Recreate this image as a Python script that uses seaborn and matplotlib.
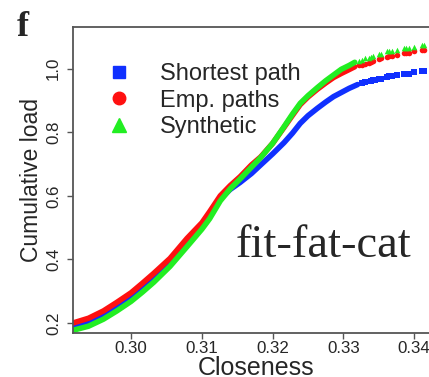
import matplotlib
matplotlib.use("Agg")
import matplotlib.pyplot as plt
import seaborn as sns
from matplotlib.lines import Line2D

# ---- data ----
x_red = [0.2918, 0.2940, 0.2961, 0.2980, 0.3000, 0.3016, 0.3032, 0.3055, 0.3079, 0.3100,
         0.3111, 0.3126, 0.3140, 0.3154, 0.3170, 0.3183, 0.3200, 0.3216, 0.3228, 0.3239,
         0.3250, 0.3263, 0.3275, 0.3286, 0.3297, 0.3308, 0.3316]
y_red = [0.200, 0.215, 0.238, 0.265, 0.295, 0.325, 0.356, 0.403, 0.466, 0.515,
         0.550, 0.600, 0.632, 0.660, 0.697, 0.722, 0.765, 0.815, 0.853, 0.887,
         0.911, 0.935, 0.955, 0.972, 0.985, 0.997, 1.006]
x_green = [0.2918, 0.2940, 0.2961, 0.2980, 0.3000, 0.3016, 0.3032, 0.3055, 0.3079, 0.3100,
           0.3111, 0.3126, 0.3140, 0.3154, 0.3170, 0.3183, 0.3200, 0.3216, 0.3228, 0.3239,
           0.3250, 0.3263, 0.3275, 0.3286, 0.3297, 0.3308, 0.3316]
y_green = [0.177, 0.190, 0.212, 0.238, 0.268, 0.297, 0.328, 0.378, 0.440, 0.495,
           0.528, 0.584, 0.622, 0.653, 0.690, 0.720, 0.765, 0.817, 0.857, 0.891,
           0.915, 0.940, 0.962, 0.980, 0.998, 1.010, 1.020]
x_blue = [0.2918, 0.2940, 0.2961, 0.2980, 0.3000, 0.3016, 0.3032, 0.3055, 0.3079, 0.3100,
          0.3111, 0.3126, 0.3140, 0.3154, 0.3170, 0.3183, 0.3200, 0.3216, 0.3228, 0.3239,
          0.3250, 0.3263, 0.3275, 0.3286, 0.3297, 0.3308, 0.3320]
y_blue = [0.192, 0.205, 0.228, 0.255, 0.285, 0.315, 0.346, 0.393, 0.455, 0.503,
          0.537, 0.590, 0.620, 0.642, 0.670, 0.697, 0.732, 0.767, 0.797, 0.828,
          0.852, 0.875, 0.895, 0.912, 0.925, 0.938, 0.950]

# sparse tails (drawn as markers)
xt_red = [0.3322, 0.3326, 0.3330, 0.3336, 0.3339, 0.3342, 0.3350, 0.3353, 0.3362, 0.3365,
          0.3368, 0.3375, 0.3386, 0.3389, 0.3392, 0.3400, 0.3411, 0.3414, 0.3425, 0.3428]
yt_red = [1.010, 1.013, 1.015, 1.019, 1.022, 1.024, 1.030, 1.032, 1.038, 1.039,
          1.040, 1.044, 1.048, 1.049, 1.050, 1.054, 1.058, 1.059, 1.062, 1.063]
xt_green = [0.3322, 0.3326, 0.3330, 0.3336, 0.3339, 0.3342, 0.3350, 0.3353, 0.3362, 0.3365,
            0.3368, 0.3375, 0.3386, 0.3389, 0.3392, 0.3400, 0.3411, 0.3414, 0.3425, 0.3428]
yt_green = [1.025, 1.028, 1.032, 1.035, 1.038, 1.040, 1.045, 1.047, 1.054, 1.055,
            1.056, 1.059, 1.064, 1.065, 1.066, 1.069, 1.074, 1.075, 1.078, 1.079]
xt_blue = [0.3326, 0.3330, 0.3339, 0.3342, 0.3345, 0.3350, 0.3353, 0.3362, 0.3365,
           0.3368, 0.3375, 0.3386, 0.3389, 0.3392, 0.3400, 0.3411, 0.3414, 0.3425, 0.3428]
yt_blue = [0.954, 0.957, 0.962, 0.963, 0.965, 0.968, 0.969, 0.975, 0.976,
           0.977, 0.979, 0.982, 0.983, 0.984, 0.988, 0.992, 0.993, 0.995, 0.996]

x_ticks = [0.30, 0.31, 0.32, 0.33, 0.34]
x_tick_labels = ["0.30", "0.31", "0.32", "0.33", "0.34"]
y_ticks = [0.2, 0.4, 0.6, 0.8, 1.0]
y_tick_labels = ["0.2", "0.4", "0.6", "0.8", "1.0"]
legend_labels = ["Shortest path", "Emp. paths", "Synthetic"]

BLUE, RED, GREEN = "#1030ff", "#ff1010", "#22ee22"

sns.set_style("white")
plt.rcParams["font.family"] = ["Liberation Sans", "DejaVu Sans"]

fig = plt.figure(figsize=(4.29, 3.77), dpi=100)
ax = fig.add_axes([73 / 429, 44 / 377, 366 / 429, 306 / 377])

series = [(x_blue, y_blue, xt_blue, yt_blue, BLUE, "s"),
          (x_red, y_red, xt_red, yt_red, RED, "o"),
          (x_green, y_green, xt_green, yt_green, GREEN, "^")]
for xs, ys, xt, yt, col, mk in series:
    sns.lineplot(x=xs, y=ys, ax=ax, color=col, lw=4.0, sort=False,
                 solid_capstyle="round", solid_joinstyle="round")
    sns.scatterplot(x=xt, y=yt, ax=ax, color=col, marker=mk, s=16,
                    linewidth=0, edgecolor=col)

ax.set_xlim(0.2918, 0.3435)
ax.set_ylim(0.1685, 1.131)
ax.set_xticks(x_ticks)
ax.set_xticklabels(x_tick_labels, fontsize=12.2)
ax.set_yticks(y_ticks)
ax.set_yticklabels(y_tick_labels, fontsize=12.2, rotation=90, va="center")
ax.tick_params(axis="both", length=4.5, width=1.0, color="#555555",
               direction="out", left=True, bottom=True)
ax.tick_params(axis="x", pad=1.5)
ax.tick_params(axis="y", pad=4)
for s in ax.spines.values():
    s.set_color("#555555")
    s.set_linewidth(1.3)

ax.set_xlabel("Closeness", fontsize=18, labelpad=-0.5)
ax.set_ylabel("Cumulative load", fontsize=16.5, labelpad=2)

handles = [Line2D([], [], ls="", marker="s", color=BLUE, markersize=8.5),
           Line2D([], [], ls="", marker="o", color=RED, markersize=9),
           Line2D([], [], ls="", marker="^", color=GREEN, markersize=10)]
ax.legend(handles, legend_labels, loc="upper left", frameon=False,
          fontsize=17, bbox_to_anchor=(16 / 366, 1 - 24 / 306),
          handletextpad=1.0, labelspacing=0.2, borderpad=0, handlelength=1.5)

ax.text(0.3272, 0.409, "fit-fat-cat", fontsize=33.5,
        family=["Liberation Serif", "DejaVu Serif"], ha="center", va="baseline")
fig.text(17 / 429, 1 - 36 / 377, "f", fontsize=26, fontweight="bold",
         family=["Liberation Serif", "DejaVu Serif"], ha="left", va="baseline")

fig.savefig("out.png", dpi=100)
